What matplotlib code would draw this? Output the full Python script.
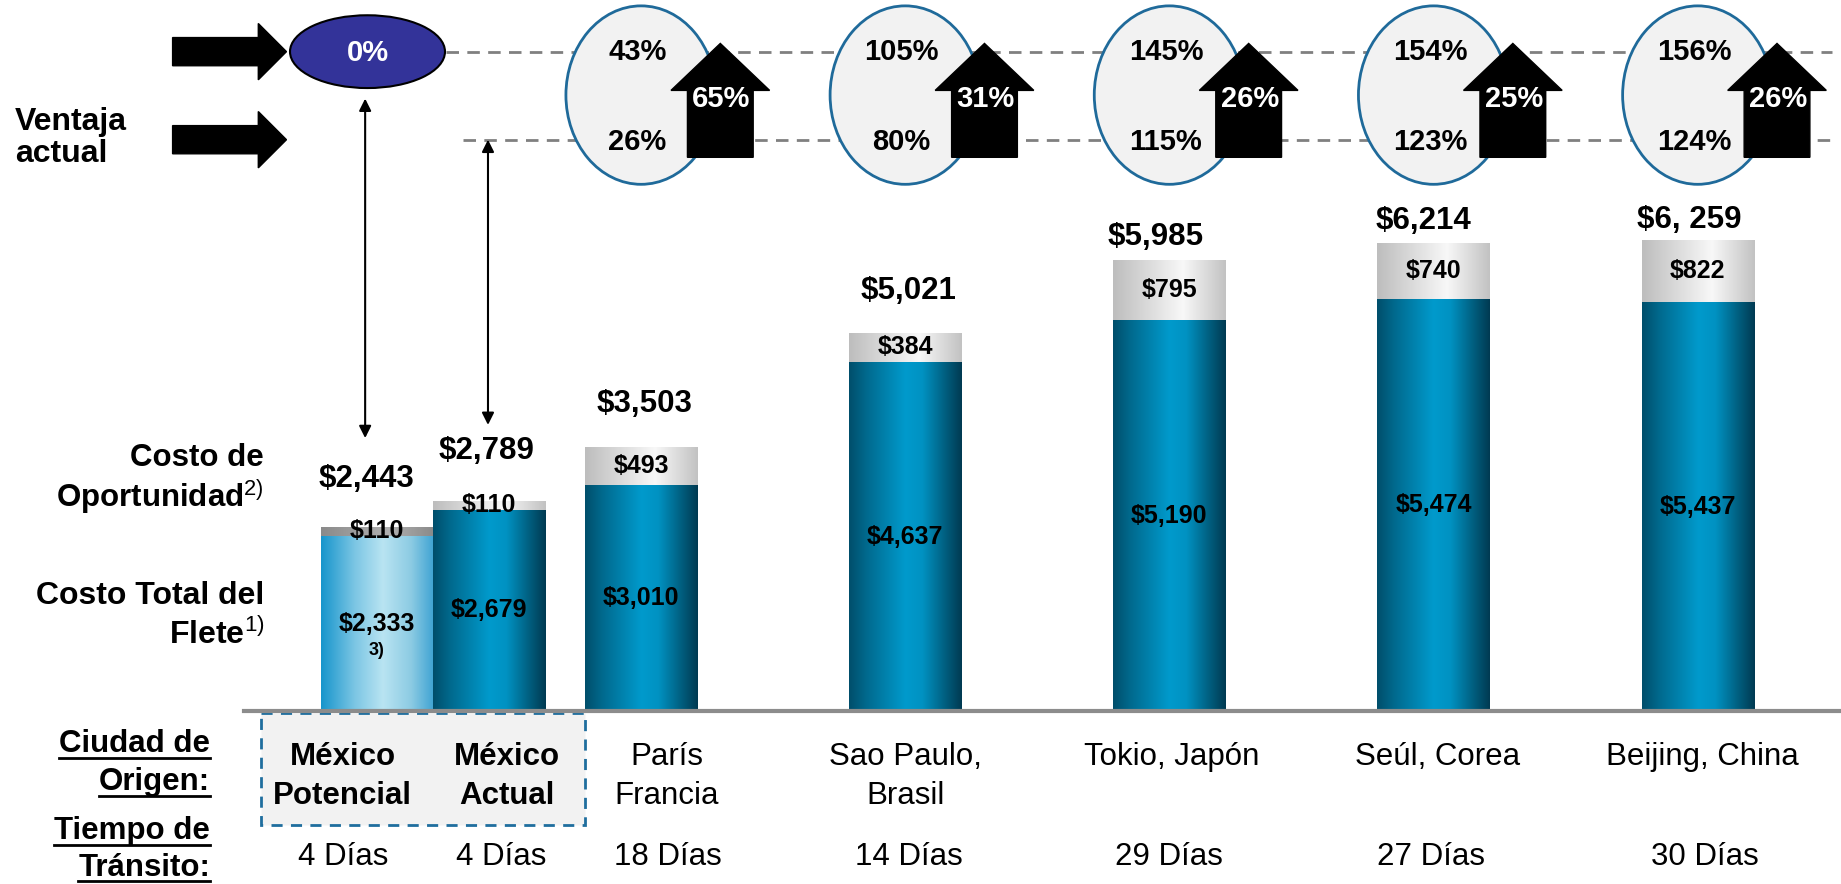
import numpy as np
import matplotlib.pyplot as plt
from matplotlib.patches import Ellipse, Polygon, Rectangle, FancyArrow
from matplotlib.colors import LinearSegmentedColormap

plt.rcParams['font.family'] = ['Liberation Sans', 'DejaVu Sans']
plt.rcParams['mathtext.fontset'] = 'custom'
plt.rcParams['mathtext.rm'] = 'Liberation Sans'

# data
ciudades = ["México\nPotencial", "México\nActual", "París\nFrancia", "Sao Paulo,\nBrasil",
            "Tokio, Japón", "Seúl, Corea", "Beijing, China"]
flete = [2333, 2679, 3010, 4637, 5190, 5474, 5437]
oportunidad = [110, 110, 493, 384, 795, 740, 822]
totales = ["$2,443", "$2,789", "$3,503", "$5,021", "$5,985", "$6,214", "$6, 259"]
dias = [4, 4, 18, 14, 29, 27, 30]
ventaja_potencial = ["43%", "105%", "145%", "154%", "156%"]
ventaja_actual = ["26%", "80%", "115%", "123%", "124%"]
incremento = ["65%", "31%", "26%", "25%", "26%"]

# layout (units = px of a 1568x753 canvas)
W, H = 1568, 753
K = 1841 / W
BASE = 606
PX_PER = 0.0642
YMAX = 7000
X0, STEP = 546, 225
pos = [-1.0, -0.575, 0, 1, 2, 3, 4]
bw = 0.425
gap_tot = [41, 43, 37, 36, 20, 19, 17]
dx_tot = [-9, -2, 3, 3, -12, -9, -7]
dx_lab = [-29, 15, 22, 0, 2, 3, 4]
dx_dias = [-29, 10, 23, 3, 0, -2, 6]


def px(p):
    return X0 + STEP * p


cm_blue = LinearSegmentedColormap.from_list('b', [(0, '#004e6b'), (0.15, '#00698d'), (0.5, '#009acc'),
                                                  (0.65, '#0092c2'), (0.88, '#005877'), (1, '#003a52')])
cm_light = LinearSegmentedColormap.from_list('l', [(0, '#1795cc'), (0.3, '#7cc6e4'), (0.55, '#b9e4f2'),
                                                   (0.8, '#8ccbe3'), (1, '#3fa3d3')])
cm_gray = LinearSegmentedColormap.from_list('g', [(0, '#bdbdbd'), (0.62, '#f8f8f8'), (1, '#c2c2c2')])
cm_dgray = LinearSegmentedColormap.from_list('d', [(0, '#8a8a8a'), (0.6, '#b0b0b0'), (1, '#8a8a8a')])

fig = plt.figure(figsize=(18.41, 8.84), dpi=100)
ov = fig.add_axes([0, 0, 1, 1])
ov.set_xlim(0, W)
ov.set_ylim(H, 0)
ov.axis('off')

bx = fig.add_axes([0, (H - BASE) / H, 1, YMAX * PX_PER / H], zorder=2)
bx.patch.set_alpha(0)
bx.axis('off')


def grad(ax, rect, cmap):
    x, y = rect.get_x(), rect.get_y()
    w, h = rect.get_width(), rect.get_height()
    im = ax.imshow(np.linspace(0, 1, 256)[None, :], extent=(x, x + w, y, y + h), aspect='auto',
                   cmap=cmap, zorder=2, interpolation='bilinear')
    im.set_clip_path(rect)


b1 = bx.bar(pos, flete, bw, color='none', linewidth=0)
b2 = bx.bar(pos, oportunidad, bw, bottom=flete, color='none', linewidth=0)
for i in range(len(pos)):
    grad(bx, b1[i], cm_light if i == 0 else cm_blue)
    grad(bx, b2[i], cm_dgray if i == 0 else cm_gray)
bx.set_xlim(-X0 / STEP, (W - X0) / STEP)
bx.set_ylim(0, YMAX)

# baseline
bx.plot([(208 - X0) / STEP, (W - X0) / STEP], [0, 0], color='#8c8c8c', lw=3, zorder=5, clip_on=False)

for i, p in enumerate(pos):
    f, o = flete[i], oportunidad[i]
    bx.annotate(totales[i], (p, f + o), xytext=(dx_tot[i] * K, gap_tot[i] * K),
                textcoords='offset pixels', ha='center', va='center', fontsize=22.5, weight='bold', zorder=6)
    bx.text(p, f / 2, "${:,}".format(f), ha='center', va='center', fontsize=18, weight='bold', zorder=6)
    bx.text(p, f + o / 2, "${:,}".format(o), ha='center', va='center', fontsize=18, weight='bold', zorder=6)
bx.annotate("3)", (pos[0], flete[0] / 2), xytext=(0, -27), textcoords='offset pixels',
            ha='center', va='center', fontsize=13, weight='bold', zorder=6)

# left arrows + Ventaja
for yy in [44, 119]:
    ov.add_patch(FancyArrow(147, yy, 97, 0, width=24, head_width=48, head_length=24,
                            length_includes_head=True, color='black', zorder=3))
ov.text(13, 104, "Ventaja", ha='left', va='center', fontsize=23, weight='bold')
ov.text(13, 131, "actual", ha='left', va='center', fontsize=23, weight='bold')

# 0% ellipse
ov.add_patch(Ellipse((313, 44), 132, 62, fc='#333399', ec='black', lw=1.5, zorder=3))
ov.text(313, 45, "0%", color='white', ha='center', va='center', fontsize=21, weight='bold', zorder=4)

# dashed reference lines
ov.plot([380, 1560], [44, 44], color='#808080', lw=2, ls=(0, (4.5, 3)), zorder=1)
ov.plot([394, 1560], [119, 119], color='#808080', lw=2, ls=(0, (4.5, 3)), zorder=1)

# circles and house arrows
for k in range(5):
    cx = px(pos[k + 2])
    ov.add_patch(Ellipse((cx, 81), 128, 152, fc='#f2f2f2', ec='#1f6a9a', lw=2, zorder=3))
    ov.text(cx - 3, 44, ventaja_potencial[k], ha='center', va='center', fontsize=21, weight='bold', zorder=4)
    ov.text(cx - 3, 121, ventaja_actual[k], ha='center', va='center', fontsize=21, weight='bold', zorder=4)
    hx = cx + 0.3 * STEP
    ov.add_patch(Polygon([(hx - 28, 134), (hx - 28, 77), (hx - 42, 77), (hx, 37), (hx + 42, 77),
                          (hx + 28, 77), (hx + 28, 134)], closed=True, color='black', zorder=5))
    ov.text(hx + 1, 84, incremento[k], color='white', ha='center', va='center', fontsize=21,
            weight='bold', zorder=6)

# vertical double arrows
arr = dict(arrowstyle='<|-|>', color='black', lw=1.5, mutation_scale=18, shrinkA=0, shrinkB=0)
lab0 = BASE - (flete[0] + oportunidad[0]) * PX_PER - gap_tot[0]
lab1 = BASE - (flete[1] + oportunidad[1]) * PX_PER - gap_tot[1]
ov.annotate('', xy=(px(pos[0]) - 10, 84), xytext=(px(pos[0]) - 10, lab0 - 35), arrowprops=arr, zorder=3)
ov.annotate('', xy=(px(pos[1]) - 1, 119), xytext=(px(pos[1]) - 1, lab1 - 22), arrowprops=arr, zorder=3)

# left labels
ov.text(225, 390, "Costo de", ha='right', va='center', fontsize=22.5, weight='bold')
ov.text(225, 423, r"Oportunidad$^{\mathrm{2)}}$", ha='right', va='center', fontsize=22.5, weight='bold')
ov.text(225, 508, "Costo Total del", ha='right', va='center', fontsize=23, weight='bold')
ov.text(225, 541, r"Flete$^{\mathrm{1)}}$", ha='right', va='center', fontsize=23, weight='bold')

# México box
ov.add_patch(Rectangle((222, 607), 276, 96, fc='#f2f2f2', ec='#1f6e9e', lw=2, ls=(0, (4, 3)), zorder=1))

# city labels and transit days
for i, p in enumerate(pos):
    lines = ciudades[i].split("\n")
    wt = 'bold' if i < 2 else 'normal'
    for j, ln in enumerate(lines):
        ov.text(px(p) + dx_lab[i], 645 + 33 * j, ln, ha='center', va='center', fontsize=22.5,
                weight=wt, zorder=4)
    ov.text(px(p) + dx_dias[i], 730, "{} Días".format(dias[i]), ha='center', va='center', fontsize=22.5)

# underlined row headers
renderer = fig.canvas.get_renderer()
inv = ov.transData.inverted()
for txt, yy in [("Ciudad de", 634), ("Origen:", 666), ("Tiempo de", 708), ("Tránsito:", 739)]:
    t = ov.text(179, yy, txt, ha='right', va='center', fontsize=22.5, weight='bold')
    bb = t.get_window_extent(renderer)
    (ux0, uy), (ux1, _) = inv.transform([(bb.x0, bb.y0), (bb.x1, bb.y0)])
    ov.plot([ux0, ux1], [uy - 1, uy - 1], color='black', lw=2)

fig.savefig("out.png", dpi=100)
